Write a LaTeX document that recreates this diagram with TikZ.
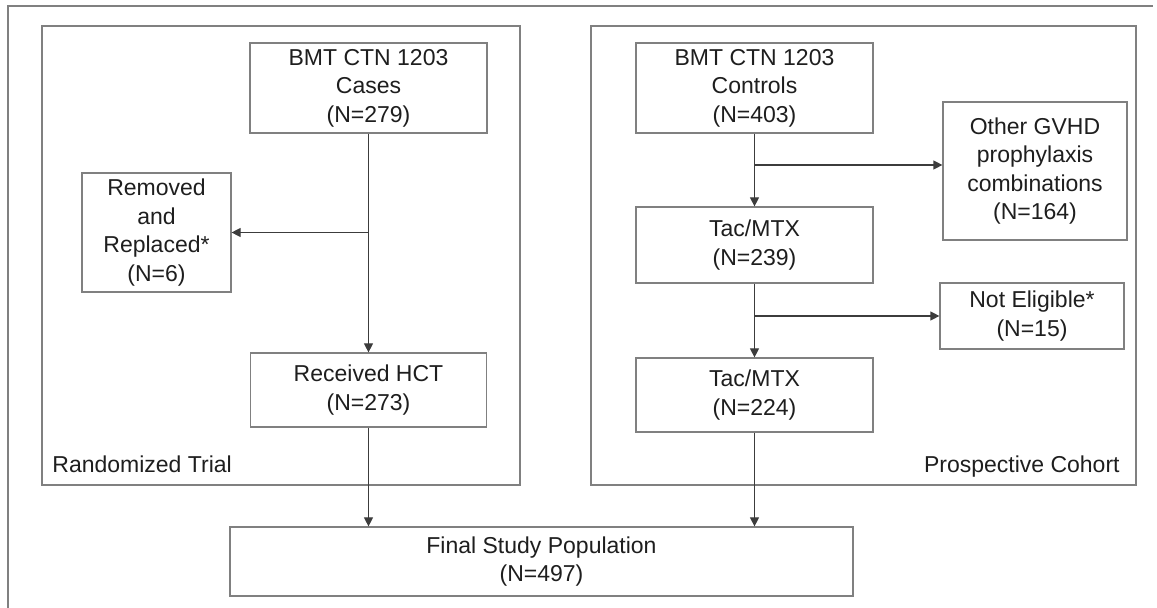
\documentclass[tikz,border=0pt]{standalone}
\usepackage{fontspec}
\setmainfont{Liberation Sans}
\usetikzlibrary{arrows.meta}
\definecolor{boxgray}{RGB}{128,128,128}
\definecolor{arrowgray}{RGB}{60,60,60}
\definecolor{textgray}{RGB}{30,30,30}
\begin{document}
\begin{tikzpicture}[x=0.5pt,y=-0.5pt]
\tikzstyle{box} = [draw=boxgray, line width=0.6pt, fill=white, align=center, inner sep=0pt, text=textgray, font=\fontsize{11.5}{14.2}\selectfont];
\tikzstyle{group} = [draw=boxgray, line width=0.6pt];
\tikzstyle{arr} = [draw=arrowgray, line width=0.6pt, -{Triangle[length=4.5pt,width=4.5pt]}];
\tikzstyle{label} = [inner sep=0pt, text=textgray, font=\fontsize{11.5}{14.2}\selectfont];

\useasboundingbox (0,0) rectangle (1157,608);
\draw[group] (8,608) -- (8,6) -- (1153,6);

% the two arms
\draw[group] (42,26) rectangle (520,485);
\draw[group] (591,26) rectangle (1136,485);
\node[label, anchor=base west] (lab-trial) at (52,473) {Randomized Trial};
\node[label, anchor=base east] (lab-cohort) at (1120,473) {Prospective Cohort};

\node[box, minimum width=118.5pt, minimum height=45pt] (cases) at (368.5,88) {BMT CTN 1203\\Cases\\(N=279)};
\node[box, minimum width=74.5pt, minimum height=59.5pt] (removed) at (156.5,232.5) {Removed\\and\\Replaced*\\(N=6)};
\node[box, minimum width=118pt, minimum height=37pt] (received) at (368.5,390) {Received HCT\\(N=273)};

\node[box, minimum width=118.5pt, minimum height=45pt] (controls) at (754.5,88) {BMT CTN 1203\\Controls\\(N=403)};
\node[box, minimum width=92pt, minimum height=69pt] (other) at (1035,171) {Other GVHD\\prophylaxis\\combinations\\(N=164)};
\node[box, minimum width=118.5pt, minimum height=38pt] (tac-1) at (754.5,245) {Tac/MTX\\(N=239)};
\node[box, minimum width=92pt, minimum height=33pt] (noteligible) at (1032,316) {Not Eligible*\\(N=15)};
\node[box, minimum width=118.5pt, minimum height=37pt] (tac-2) at (754.5,395) {Tac/MTX\\(N=224)};

\node[box, minimum width=311.5pt, minimum height=34.5pt] (final) at (541.5,561.5) {Final Study Population\\(N=497)};

\draw[arr] (cases) -- (received);
\draw[arr] (cases.south |- removed.east) -- (removed.east);
\draw[arr] (controls) -- (tac-1);
\coordinate (split-1) at (754.5,165);
\draw[arr] (split-1) -- (split-1 -| other.west);
\draw[arr] (tac-1) -- (tac-2);
\draw[arr] (tac-1.south |- noteligible.west) -- (noteligible.west);
\draw[arr] (received) -- (received.south |- final.north);
\draw[arr] (tac-2) -- (tac-2.south |- final.north);
\end{tikzpicture}
\end{document}
